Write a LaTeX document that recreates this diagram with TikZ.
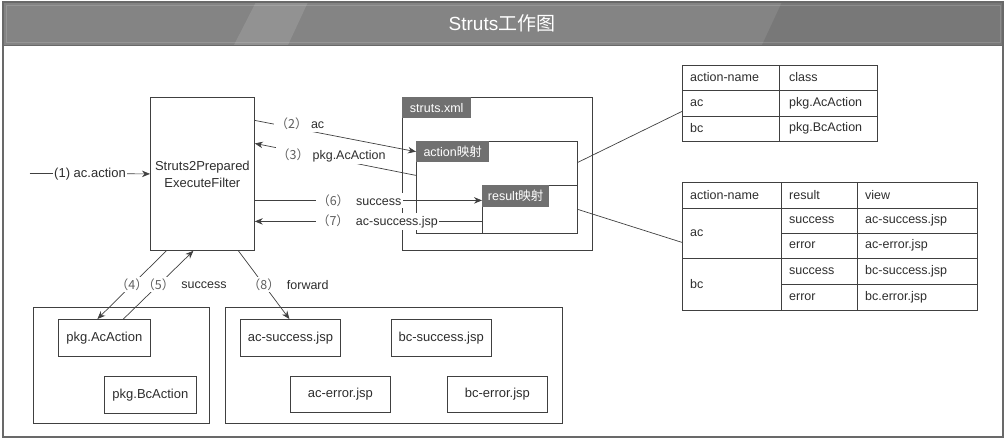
\documentclass[tikz,border=0pt]{standalone}
\usepackage{fontspec}
\setmainfont{Liberation Sans}
\newfontfamily\cjk{Noto Sans CJK SC}
\usetikzlibrary{arrows.meta, positioning, calc}
\definecolor{framegray}{RGB}{105,105,105}
\definecolor{bargray}{RGB}{132,132,132}
\definecolor{tagfill}{RGB}{112,112,112}
\definecolor{linegray}{RGB}{64,64,64}
\definecolor{textgray}{RGB}{45,45,45}
\definecolor{numgray}{RGB}{95,95,95}
\newcommand{\stepno}[1]{{\cjk\color{numgray}（#1）}}

\begin{document}
\begin{tikzpicture}[
    x=1pt, y=-1pt,
    box/.style={rectangle, draw=linegray, line width=0.8pt, anchor=north west, inner sep=0pt, align=center, text=textgray, font=\fontsize{13}{17}\selectfont},
    tag/.style={rectangle, fill=tagfill, anchor=north west, inner sep=0pt, text=white, font=\fontsize{12.5}{15}\selectfont},
    cell/.style={anchor=west, inner sep=0pt, text=textgray, font=\fontsize{12.5}{14}\selectfont},
    lbl/.style={fill=white, inner sep=1.5pt, text=textgray, font=\fontsize{12.5}{14}\selectfont},
    arrow/.style={-{Stealth[length=8pt, width=6.5pt]}, draw=linegray, line width=0.7pt},
    link/.style={draw=linegray, line width=0.7pt},
]
    \useasboundingbox (0,0) rectangle (1005,439);

    % Frame and title bar
    \fill[bargray] (3,2) rectangle (1003,45);
    \fill[white, opacity=0.12] (256,2) -- (308,2) -- (288,45) -- (234,45) -- cycle;
    \fill[black, opacity=0.09] (782,2) -- (1003,2) -- (1003,45) -- (762,45) -- cycle;
    \draw[white, opacity=0.15, line width=0.6pt] (6,5) rectangle (1000,42);
    \draw[framegray, line width=1.2pt] (3,2) rectangle (1003,437);
    \draw[framegray, line width=1pt] (3,45) -- (1003,45);
    \node[text=white, font=\fontsize{19}{21}\selectfont] (title) at (502,23) {Struts{\cjk 工作图}};

    % Filter
    \node[box, minimum width=104pt, minimum height=153pt] (filter) at (150,97) {Struts2Prepared\\ExecuteFilter};

    % struts.xml with its mappings
    \node[box, minimum width=190pt, minimum height=153pt] (xmlbox) at (402,97) {};
    \node[tag, minimum width=69pt, minimum height=21pt] (xmltag) at (402,97) {struts.xml};
    \node[box, minimum width=161pt, minimum height=92pt] (actbox) at (416,141) {};
    \node[tag, minimum width=73pt, minimum height=21pt] (acttag) at (416,141) {action{\cjk 映射}};
    \node[box, minimum width=95pt, minimum height=48pt] (resbox) at (482,185) {};
    \node[tag, minimum width=67pt, minimum height=22pt] (restag) at (482,185) {result{\cjk 映射}};

    % Action table
    \node[box, minimum width=195pt, minimum height=76pt] (tabA) at (682,65) {};
    \draw[link] (779,65) -- (779,141);
    \draw[link] (682,90) -- (877,90);
    \draw[link] (682,116) -- (877,116);
    \node[cell] (tA11) at (690,77.5) {action-name};
    \node[cell] (tA12) at (789,77.5) {class};
    \node[cell] (tA21) at (690,103) {ac};
    \node[cell] (tA22) at (789,103) {pkg.AcAction};
    \node[cell] (tA31) at (690,128.5) {bc};
    \node[cell] (tA32) at (789,128.5) {pkg.BcAction};

    % Result table
    \node[box, minimum width=295pt, minimum height=128pt] (tabB) at (682,182) {};
    \draw[link] (781,182) -- (781,310);
    \draw[link] (857,182) -- (857,310);
    \draw[link] (682,208) -- (977,208);
    \draw[link] (781,233) -- (977,233);
    \draw[link] (682,258) -- (977,258);
    \draw[link] (781,284) -- (977,284);
    \node[cell] (tB11) at (690,195) {action-name};
    \node[cell] (tB12) at (789,195) {result};
    \node[cell] (tB13) at (865,195) {view};
    \node[cell] (tBac) at (690,233) {ac};
    \node[cell] (tB22) at (789,220.5) {success};
    \node[cell] (tB23) at (865,220.5) {ac-success.jsp};
    \node[cell] (tB32) at (789,245.5) {error};
    \node[cell] (tB33) at (865,245.5) {ac-error.jsp};
    \node[cell] (tBbc) at (690,284) {bc};
    \node[cell] (tB42) at (789,271) {success};
    \node[cell] (tB43) at (865,271) {bc-success.jsp};
    \node[cell] (tB52) at (789,297) {error};
    \node[cell] (tB53) at (865,297) {bc.error.jsp};

    % Action classes
    \node[box, minimum width=176pt, minimum height=116pt] (leftbox) at (33,307) {};
    \node[box, minimum width=92pt, minimum height=37pt] (acact) at (58,319) {pkg.AcAction};
    \node[box, minimum width=92pt, minimum height=37pt] (bcact) at (104,376) {pkg.BcAction};

    % Views
    \node[box, minimum width=337pt, minimum height=116pt] (rightbox) at (225,307) {};
    \node[box, minimum width=100pt, minimum height=37pt] (acsucc) at (240,319) {ac-success.jsp};
    \node[box, minimum width=100pt, minimum height=37pt, right=50pt of acsucc] (bcsucc) {bc-success.jsp};
    \node[box, minimum width=100pt, minimum height=36pt] (acerr) at (290,376) {ac-error.jsp};
    \node[box, minimum width=100pt, minimum height=36pt] (bcerr) at (447,376) {bc-error.jsp};

    % Links to the tables
    \draw[link] ([yshift=25pt]actbox.east) -- ([yshift=-8pt]tabA.west);
    \draw[link] (resbox.east) -- ([yshift=4pt]tabB.west);

    % Request
    \coordinate (req) at (30,173.5);
    \draw[arrow] (req) -- node[lbl, font=\fontsize{13}{15}\selectfont] (l1) {(1) ac.action} (filter.west);

    % Filter and struts.xml
    \draw[arrow] ([yshift=53.5pt]filter.east) -- node[lbl, pos=0.28, yshift=5pt] (l2) {\stepno{2} ac} (acttag.west);
    \draw[arrow] ([yshift=12pt]actbox.west) -- node[lbl, pos=0.525, yshift=3pt] (l3) {\stepno{3} pkg.AcAction} ([yshift=30.5pt]filter.east);
    \coordinate (f6) at ([yshift=-26.5pt]filter.east);
    \draw[arrow] (f6) -- node[lbl, pos=0.46] (l6) {\stepno{6}\ \ success} (f6 -| restag.west);
    \coordinate (r7) at ([yshift=-12pt]resbox.west);
    \draw[arrow] (r7) -- node[lbl, pos=0.46] (l7) {\stepno{7}\ \ ac-success.jsp} (r7 -| filter.east);

    % Filter and actions / views
    \draw[arrow] ([xshift=-36pt]filter.south) -- node[lbl] (l4) {\stepno{4}} ([xshift=-7pt]acact.north);
    \draw[arrow] ([xshift=19pt]acact.north) -- node[lbl] (l5) {\stepno{5}} ([xshift=-9pt]filter.south);
    \node[cell, right=5pt of l5] (t5) {success};
    \draw[arrow] ([xshift=36pt]filter.south) -- node[lbl] (l8) {\stepno{8}} ([xshift=-1pt]acsucc.north);
    \node[cell, right=5pt of l8] (t8) {forward};

\end{tikzpicture}
\end{document}
